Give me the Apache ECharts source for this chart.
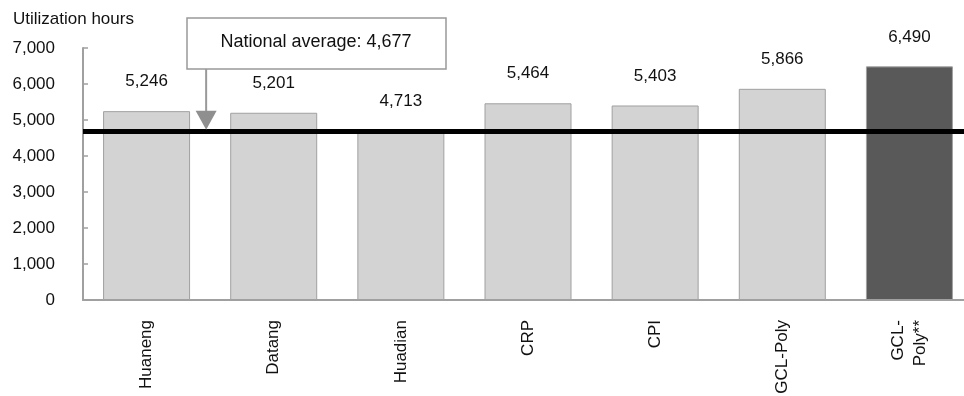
<!DOCTYPE html>
<html>
<head>
<meta charset="utf-8">
<script src="https://cdn.jsdelivr.net/npm/echarts@6/dist/echarts.min.js"></script>
<style>
  html, body { margin: 0; padding: 0; background: #fff; }
  #chart { width: 964px; height: 396px; }
</style>
</head>
<body>
<div id="chart"></div>
<script>
// Annual utilization hours by power group
const companies = ['Huaneng', 'Datang', 'Huadian', 'CRP', 'CPI', 'GCL-Poly', 'GCL-\nPoly**'];
const hours = [5246, 5201, 4713, 5464, 5403, 5866, 6490];
const highlighted = [false, false, false, false, false, false, true];
const nationalAverage = 4677;
const yMin = 0, yMax = 7000, yStep = 1000;

const FONT = "'Liberation Sans', Arial, sans-serif";
const fmt = v => Number(v).toLocaleString('en-US');

const chart = echarts.init(document.getElementById('chart'), null, { renderer: 'canvas' });

chart.setOption({
  animation: false,
  backgroundColor: '#fff',
  textStyle: { fontFamily: FONT },
  title: {
    text: 'Utilization hours',
    left: 8, top: 6,
    textStyle: { fontFamily: FONT, fontSize: 17, fontWeight: 'normal', color: '#111' }
  },
  grid: { left: 83, right: -9, top: 48, bottom: 96, outerBoundsMode: 'none' },
  xAxis: {
    type: 'category',
    data: companies,
    axisLine: { lineStyle: { color: '#a0a0a0', width: 2 } },
    axisTick: { inside: true, length: 7, lineStyle: { color: '#a0a0a0', width: 1.5 } },
    axisLabel: {
      interval: 0, rotate: 90, margin: 20,
      fontFamily: FONT, fontSize: 17, color: '#111', lineHeight: 22
    }
  },
  yAxis: {
    type: 'value',
    min: yMin, max: yMax, interval: yStep,
    axisLine: { show: true, lineStyle: { color: '#a0a0a0', width: 2 } },
    axisTick: { show: true, inside: true, length: 5, lineStyle: { color: '#a0a0a0', width: 1.5 } },
    splitLine: { show: false },
    axisLabel: { margin: 28, fontFamily: FONT, fontSize: 17, color: '#111', formatter: fmt }
  },
  series: [{
    type: 'bar',
    barWidth: 87,
    data: hours.map((v, i) => ({
      value: v,
      itemStyle: highlighted[i]
        ? { color: '#595959', borderColor: '#a0a0a0', borderWidth: 1 }
        : { color: '#d3d3d3', borderColor: '#a0a0a0', borderWidth: 1 }
    })),
    label: {
      show: true, position: 'top', distance: 21,
      fontFamily: FONT, fontSize: 17, color: '#111',
      formatter: p => fmt(p.value)
    },
    markLine: {
      silent: true,
      symbol: ['none', 'none'],
      label: { show: false },
      lineStyle: { color: '#000', width: 5, type: 'solid' },
      data: [{ yAxis: nationalAverage }]
    }
  }]
});

// Callout box with an arrow pointing down to the national-average line
const avgY = chart.convertToPixel({ yAxisIndex: 0 }, nationalAverage);
const c0 = chart.convertToPixel({ xAxisIndex: 0 }, companies[0]);
const c1 = chart.convertToPixel({ xAxisIndex: 0 }, companies[1]);
const arrowX = (c0 + c1) / 2 - 4;
const tipY = avgY - 2;
const boxTop = 18, boxBottom = 69;

chart.setOption({
  graphic: [
    {
      type: 'rect', z: 10,
      shape: { x: 187, y: boxTop, width: 259, height: boxBottom - boxTop },
      style: { fill: '#fff', stroke: '#999', lineWidth: 1.5 }
    },
    {
      type: 'text', z: 11,
      x: 316, y: (boxTop + boxBottom) / 2 - 1,
      style: {
        text: 'National average: ' + fmt(nationalAverage),
        font: '18px ' + FONT, fill: '#111',
        align: 'center', verticalAlign: 'middle'
      }
    },
    {
      type: 'line', z: 10,
      shape: { x1: arrowX, y1: boxBottom, x2: arrowX, y2: tipY - 18 },
      style: { stroke: '#999', lineWidth: 2 }
    },
    {
      type: 'polygon', z: 10,
      shape: { points: [[arrowX - 10.5, tipY - 19], [arrowX + 10.5, tipY - 19], [arrowX, tipY]] },
      style: { fill: '#8f8f8f' }
    }
  ]
});
</script>
</body>
</html>
